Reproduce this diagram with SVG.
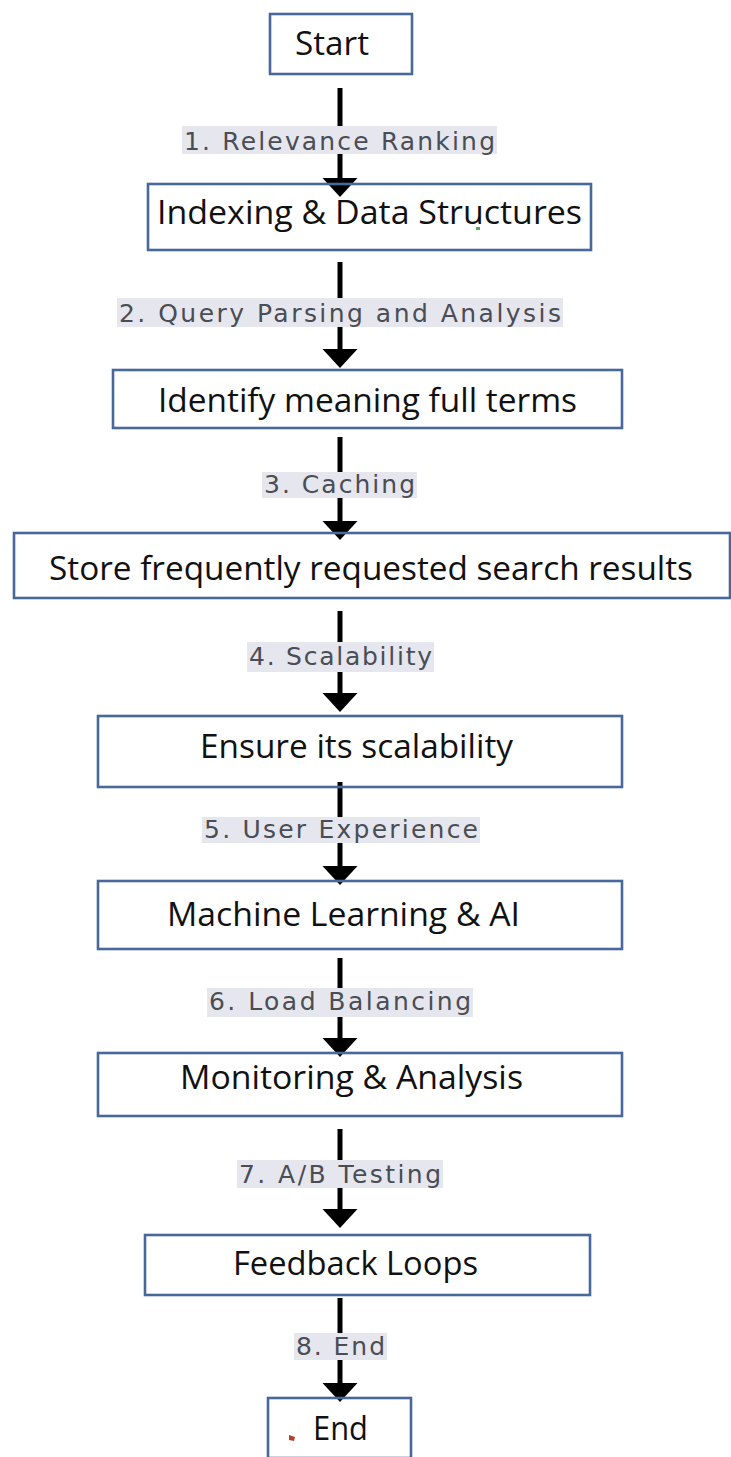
<svg xmlns="http://www.w3.org/2000/svg" width="731" height="1457" viewBox="0 0 731 1457">
<defs>
<marker id="ah" markerUnits="userSpaceOnUse" markerWidth="20" markerHeight="36" viewBox="0 0 20 36" refX="9" refY="18" orient="auto">
<path d="M0,0.5 L19,18 L0,35.5 Z" fill="#000"/>
</marker>
<style>
.box{fill:none;stroke:#46689a;stroke-width:2.6}
.t{font-family:"Open Sans","Noto Sans",sans-serif;font-size:33px;fill:#111}
.ln{stroke:#000;stroke-width:5;marker-end:url(#ah)}
.lb{fill:#e6e6ee}
.lt{font-family:"DejaVu Sans",Verdana,sans-serif;font-size:25px;fill:#4a4d53}
</style>
</defs>
<rect width="731" height="1457" fill="#fff"/>
<g id="connectors">
<line class="ln" x1="340" y1="88" x2="340" y2="187"/>
<rect class="lb" x="182" y="126" width="315" height="28"/>
<text class="lt" x="184" y="150" textLength="311">1. Relevance Ranking</text>
<line class="ln" x1="340" y1="262" x2="340" y2="358"/>
<rect class="lb" x="117" y="298" width="446" height="29"/>
<text class="lt" x="119" y="322" textLength="442">2. Query Parsing and Analysis</text>
<line class="ln" x1="340" y1="437" x2="340" y2="530"/>
<rect class="lb" x="262" y="472" width="155" height="26"/>
<text class="lt" x="264" y="493" textLength="151">3. Caching</text>
<line class="ln" x1="340" y1="611" x2="340" y2="702"/>
<rect class="lb" x="247" y="642" width="187" height="30"/>
<text class="lt" x="249" y="665" textLength="183">4. Scalability</text>
<line class="ln" x1="340" y1="782" x2="340" y2="875"/>
<rect class="lb" x="202" y="817" width="278" height="26"/>
<text class="lt" x="204" y="838" textLength="274">5. User Experience</text>
<line class="ln" x1="340" y1="958" x2="340" y2="1047"/>
<rect class="lb" x="207" y="988" width="266" height="29"/>
<text class="lt" x="209" y="1010" textLength="262">6. Load Balancing</text>
<line class="ln" x1="340" y1="1129" x2="340" y2="1218"/>
<rect class="lb" x="237" y="1160" width="206" height="28"/>
<text class="lt" x="239" y="1183" textLength="202">7. A/B Testing</text>
<line class="ln" x1="340" y1="1298" x2="340" y2="1392"/>
<rect class="lb" x="294" y="1333" width="93" height="27"/>
<text class="lt" x="296" y="1355" textLength="89">8. End</text>
</g>
<g id="n-start">
<rect class="box" x="270" y="14" width="142" height="60"/>
<text class="t" x="295" y="55" textLength="74" lengthAdjust="spacingAndGlyphs">Start</text>
</g>
<g id="n-indexing">
<rect class="box" x="148" y="184" width="443" height="66"/>
<text class="t" x="157" y="224" textLength="425" lengthAdjust="spacingAndGlyphs">Indexing &amp; Data Structures</text>
<rect x="476" y="227" width="4" height="3" fill="#4caf50"/>
</g>
<g id="n-identify">
<rect class="box" x="113" y="370" width="509" height="58"/>
<text class="t" x="158" y="412" textLength="419" lengthAdjust="spacingAndGlyphs">Identify meaning full terms</text>
</g>
<g id="n-store">
<rect class="box" x="14" y="533" width="716" height="65"/>
<text class="t" x="49" y="580" textLength="644" lengthAdjust="spacingAndGlyphs">Store frequently requested search results</text>
</g>
<g id="n-ensure">
<rect class="box" x="98" y="716" width="524" height="71"/>
<text class="t" x="200" y="758" textLength="313" lengthAdjust="spacingAndGlyphs">Ensure its scalability</text>
</g>
<g id="n-ml">
<rect class="box" x="98" y="881" width="524" height="68"/>
<text class="t" x="167" y="926" textLength="353" lengthAdjust="spacingAndGlyphs">Machine Learning &amp; AI</text>
</g>
<g id="n-monitoring">
<rect class="box" x="98" y="1053" width="524" height="63"/>
<text class="t" x="180" y="1089" textLength="343" lengthAdjust="spacingAndGlyphs">Monitoring &amp; Analysis</text>
</g>
<g id="n-feedback">
<rect class="box" x="145" y="1235" width="445" height="60"/>
<text class="t" x="233" y="1275" textLength="245" lengthAdjust="spacingAndGlyphs">Feedback Loops</text>
</g>
<g id="n-end">
<rect class="box" x="268" y="1398" width="143" height="60"/>
<text class="t" x="313" y="1440" textLength="55" lengthAdjust="spacingAndGlyphs">End</text>
<polygon points="289,1435 295,1437 294,1441 289,1440" fill="#b5412a"/>
</g>
</svg>
